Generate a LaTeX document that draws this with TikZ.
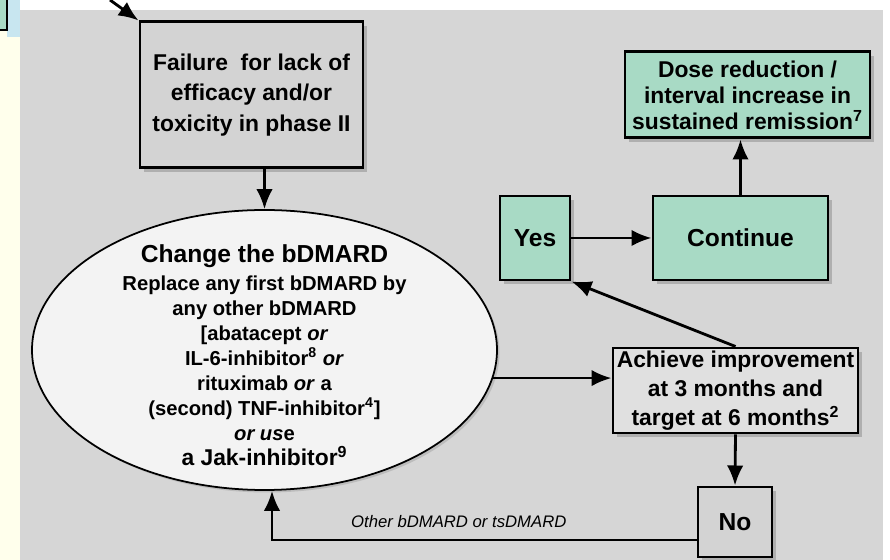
\documentclass[tikz,border=0pt]{standalone}
\usepackage{fontspec}
\setmainfont{Liberation Sans}
\usetikzlibrary{arrows.meta,shapes.geometric,shadows}
\definecolor{panelgray}{RGB}{214,214,214}
\definecolor{boxgray}{RGB}{211,211,211}
\definecolor{boxgreen}{RGB}{168,218,197}
\definecolor{ovalfill}{RGB}{243,243,243}
\definecolor{stripyellow}{RGB}{255,255,236}
\definecolor{stripblue}{RGB}{200,230,240}

\begin{document}
\begin{tikzpicture}[
    box/.style={draw, line width=1.7pt, fill=boxgray, align=center, inner sep=1pt,
      font=\bfseries\fontsize{13}{17.5}\selectfont,
      drop shadow={shadow xshift=0.8mm, shadow yshift=-0.8mm, opacity=0.45}},
    greenbox/.style={box, fill=boxgreen},
    arr/.style={line width=1.6pt, -{Latex[length=4mm,width=3.3mm]}},
  ]
  \useasboundingbox (0,0) rectangle (17.8,11.2);
  % background and cut-off margin
  \begin{scope}
    \clip (0,0) rectangle (17.8,11.2);
    \fill[stripyellow] (0,0) rectangle (0.4,11.2);
    \fill[stripblue] (0.14,10.45) rectangle (0.4,11.2);
    \draw[line width=1.2pt, fill=boxgreen] (-0.3,10.6) rectangle (0.14,11.5);
    \fill[panelgray] (0.4,0) rectangle (17.66,11.0);
  \end{scope}%

  \node[box, minimum width=4.46cm, minimum height=2.92cm] (fail) at (5.03,9.3)
    {Failure\ \ for lack of\\ efficacy and/or\\ toxicity in phase II};
  \node[ellipse, draw, line width=1pt, fill=ovalfill, inner sep=0pt,
    minimum width=9.3cm, minimum height=5.6cm,
    drop shadow={shadow xshift=0.5mm, shadow yshift=-0.5mm, opacity=0.3}] (ell) at (5.29,4.2) {};
  \node[align=center, font=\bfseries\fontsize{11.5}{14.2}\selectfont] (elltxt) at ([yshift=-0.1cm]ell.center)
    {{\fontsize{14}{16}\selectfont Change the bDMARD}\\[2pt]
     Replace any first bDMARD by\\ any other bDMARD\\ {[}abatacept \textit{or}\\
     IL-6-inhibitor\textsuperscript{8} \textit{or}\\ rituximab \textit{or} a\\
     (second) TNF-inhibitor\textsuperscript{4}]\\ \textit{or us}e\\
     {\fontsize{13}{15}\selectfont a Jak-inhibitor\textsuperscript{9}}};

  \node[greenbox, font=\bfseries\fontsize{14}{17}\selectfont, minimum width=1.4cm, minimum height=1.68cm] (yes) at (10.7,6.44) {Yes};
  \node[greenbox, font=\bfseries\fontsize{14}{17}\selectfont, minimum width=3.5cm, minimum height=1.68cm] (cont) at (14.81,6.44) {Continue};
  \node[greenbox, font=\bfseries\fontsize{13}{14.8}\selectfont, minimum width=4.9cm, minimum height=1.72cm] (dose) at (14.95,9.3)
    {Dose reduction /\\ interval increase in\\ sustained remission\textsuperscript{7}};
  \node[box, fill=boxgray!60!ovalfill, font=\bfseries\fontsize{13}{16.4}\selectfont, minimum width=4.9cm, minimum height=1.7cm] (ach) at (14.71,3.39)
    {Achieve improvement\\ at 3 months and\\ target at 6 months\textsuperscript{2}};
  \node[box, font=\bfseries\fontsize{14}{17}\selectfont, minimum width=1.48cm, minimum height=1.4cm] (no) at (14.7,0.76) {No};

  \coordinate (src) at (2.2,11.2);
  \draw[arr] (src) -- (fail.north west);%
  \draw[arr] (ell.north |- fail.south) -- (ell.north);%
  \draw[arr] (yes.east) -- (cont.west);%
  \draw[arr] (cont.north) -- (cont.north |- dose.south);%
  \draw[arr] (ell.-7.5) -- (ell.-7.5 -| ach.west);%
  \draw[arr] (ach.north) -- (yes.south east);%
  \draw[arr] (ach.south) -- (no.north);%
  \draw[arr] ([yshift=-0.36cm]no.west) -| ([xshift=0.15cm]ell.south)
    node[pos=0.28, above=3pt, font=\itshape\fontsize{9.5}{11}\selectfont] (other) {Other bDMARD or tsDMARD};
\end{tikzpicture}
\end{document}
